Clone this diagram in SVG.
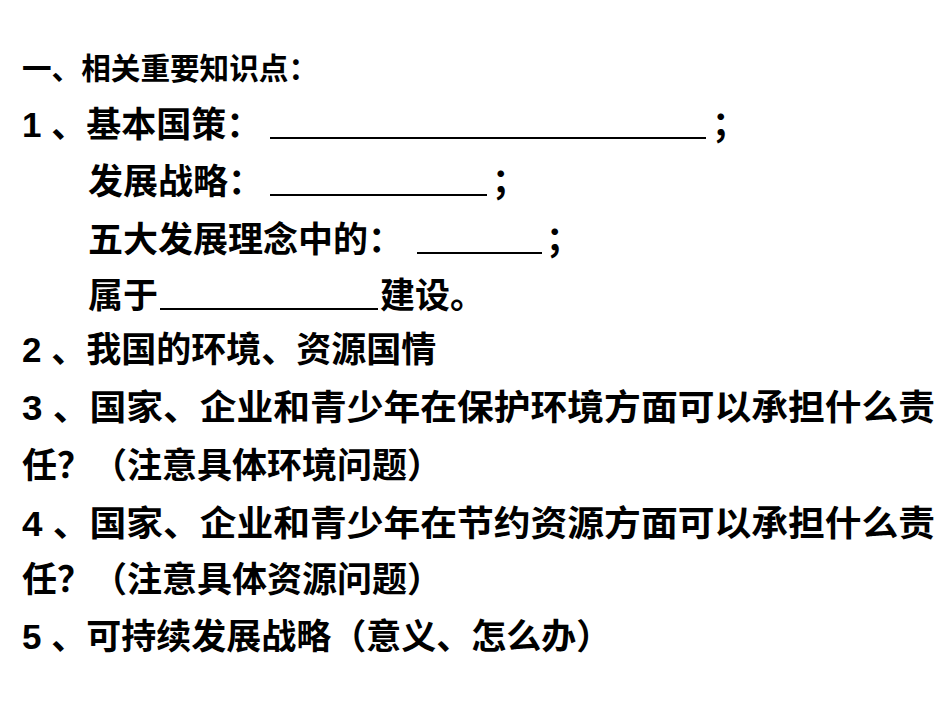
<svg xmlns="http://www.w3.org/2000/svg" width="950" height="713" viewBox="0 0 950 713">
<style>
text{font-family:"Liberation Sans","Noto Sans CJK SC",sans-serif;font-weight:bold;font-size:35px;fill:#000}
.h{font-size:30px}
line{stroke:#000;stroke-width:2}
</style>
<rect width="950" height="713" fill="#fff"/>
<g id="content">
<text class="h" x="22" y="79" textLength="296" lengthAdjust="spacingAndGlyphs">一、相关重要知识点：</text>
<text x="22" y="137">1 、基本国策：</text>
<line x1="270" y1="138" x2="706" y2="138"/>
<text x="712" y="137">；</text>
<text x="88" y="194">发展战略：</text>
<line x1="270" y1="195" x2="487" y2="195"/>
<text x="492" y="194">；</text>
<text x="88" y="252">五大发展理念中的：</text>
<line x1="417" y1="253" x2="542" y2="253"/>
<text x="546" y="252">；</text>
<text x="88" y="308">属于</text>
<line x1="160" y1="309" x2="378" y2="309"/>
<text x="380" y="308">建设。</text>
<text x="22" y="362">2 、我国的环境、资源国情</text>
<text x="22" y="420" textLength="913" lengthAdjust="spacingAndGlyphs">3 、国家、企业和青少年在保护环境方面可以承担什么责</text>
<text x="22" y="478">任？（注意具体环境问题）</text>
<text x="22" y="536" textLength="913" lengthAdjust="spacingAndGlyphs">4 、国家、企业和青少年在节约资源方面可以承担什么责</text>
<text x="22" y="592">任？（注意具体资源问题）</text>
<text x="22" y="649">5 、可持续发展战略（意义、怎么办）</text>
</g>
</svg>
